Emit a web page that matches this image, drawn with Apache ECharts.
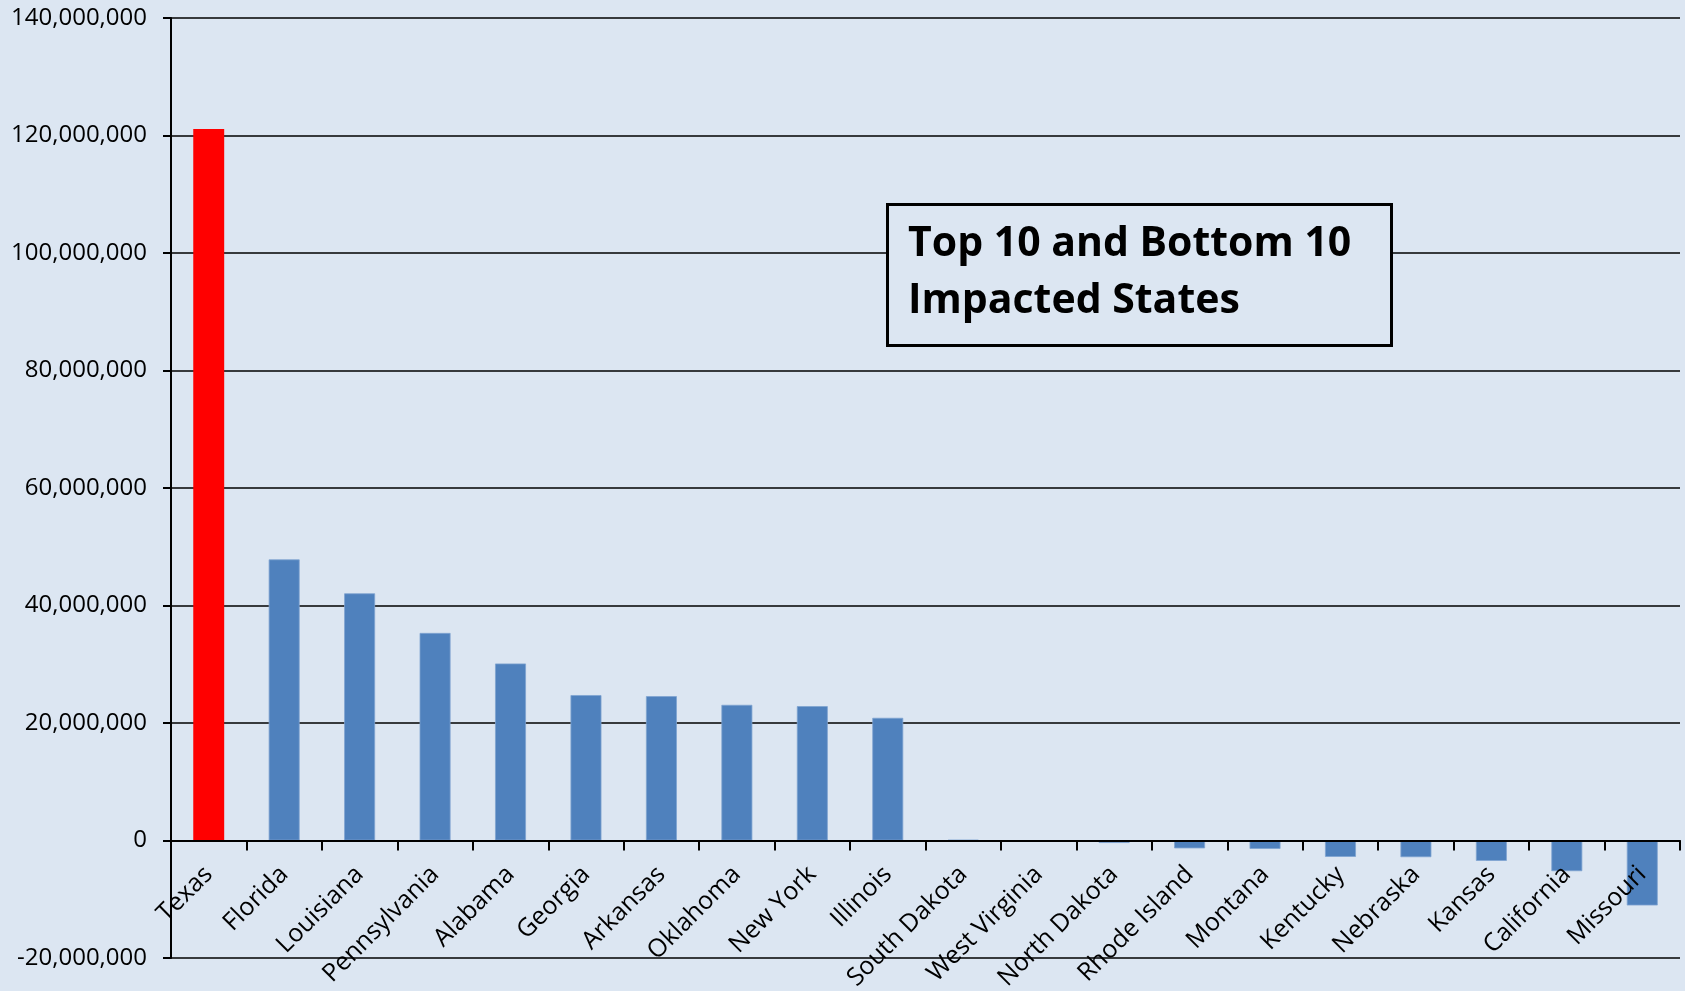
<!DOCTYPE html>
<html>
<head>
<meta charset="utf-8">
<style>
  html, body { margin: 0; padding: 0; background: #dce6f2; }
  #chart { width: 1685px; height: 991px; }
</style>
<script src="https://cdn.jsdelivr.net/npm/echarts@6/dist/echarts.min.js"></script>
</head>
<body>
<div id="chart"></div>
<script>
// States ranked by impact: ten highest followed by ten lowest
const states = ['Texas', 'Florida', 'Louisiana', 'Pennsylvania', 'Alabama', 'Georgia', 'Arkansas',
  'Oklahoma', 'New York', 'Illinois', 'South Dakota', 'West Virginia', 'North Dakota',
  'Rhode Island', 'Montana', 'Kentucky', 'Nebraska', 'Kansas', 'California', 'Missouri'];

const impact = [121100000, 47850000, 42070000, 35330000, 30130000, 24750000, 24570000,
  23090000, 22870000, 20880000, 100000, 0, -420000,
  -1340000, -1430000, -2790000, -2840000, -3470000, -5220000, -11060000];

const yTicks = { min: -20000000, max: 140000000, step: 20000000 };

const highlightState = 'Texas';

const FONT = '"Open Sans", "Noto Sans", sans-serif';

const chart = echarts.init(document.getElementById('chart'));

chart.setOption({
  backgroundColor: '#dce6f2',
  animation: false,
  title: {
    text: 'Top 10 and Bottom 10\nImpacted States',
    left: 887,
    top: 204,
    padding: [12, 40, 16, 21],
    borderColor: '#000',
    borderWidth: 3,
    backgroundColor: '#dce6f2',
    textStyle: {
      fontFamily: FONT,
      fontWeight: 'bold',
      fontSize: 41,
      lineHeight: 57,
      color: '#000'
    }
  },
  grid: { left: 171, right: 5, top: 18, bottom: 33, containLabel: false, outerBoundsMode: 'none' },
  xAxis: {
    type: 'category',
    data: states,
    z: 5,
    axisLine: { onZero: false, lineStyle: { color: '#000', width: 2 } },
    axisTick: { show: true, length: 10, inside: false, lineStyle: { color: '#000', width: 2 } },
    axisLabel: {
      rotate: 45,
      interval: 0,
      margin: 30,
      fontFamily: FONT,
      fontSize: 25,
      color: '#000'
    },
    splitLine: { show: false }
  },
  yAxis: {
    type: 'value',
    min: yTicks.min,
    max: yTicks.max,
    interval: yTicks.step,
    axisLine: { show: true, lineStyle: { color: '#000', width: 2 } },
    axisTick: { show: true, length: 8, lineStyle: { color: '#000', width: 2 } },
    axisLabel: {
      margin: 24,
      fontFamily: FONT,
      fontSize: 24,
      color: '#000',
      formatter: v => v.toLocaleString('en-US')
    },
    splitLine: { show: true, lineStyle: { color: '#000', width: 1.5 } }
  },
  series: [{
    type: 'bar',
    barWidth: '41%',
    data: impact.map((v, i) => ({
      value: v,
      itemStyle: states[i] === highlightState
        ? { color: '#ff0000' }
        : { color: '#4f81bd', borderColor: '#7fa3d1', borderWidth: 0.8 }
    }))
  }]
});

// Move the category axis (line, ticks and labels) up to the zero line
const zeroY = chart.convertToPixel({ yAxisIndex: 0 }, 0);
const bottomY = chart.convertToPixel({ yAxisIndex: 0 }, yTicks.min);
chart.setOption({ xAxis: { offset: zeroY - bottomY } });
</script>
</body>
</html>
